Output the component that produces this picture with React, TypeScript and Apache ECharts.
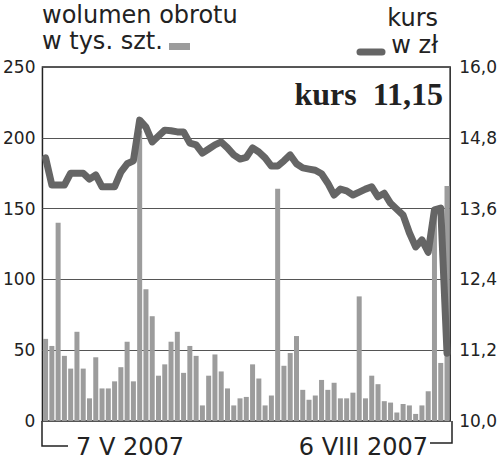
import React, { useEffect, useRef } from "react";
import * as echarts from "echarts";

// trading days 7 V 2007 – 6 VIII 2007 (weekends and 7 VI holiday skipped)
const startDate = new Date(2007, 4, 7);
const endDate = new Date(2007, 7, 6);
const categories: string[] = [];
for (let d = new Date(startDate); d <= endDate; d.setDate(d.getDate() + 1)) {
  const wd = d.getDay();
  if (wd === 0 || wd === 6) continue;
  if (d.getMonth() === 5 && d.getDate() === 7) continue;
  categories.push(d.getDate() + "." + String(d.getMonth() + 1).padStart(2, "0"));
}

const volume = [
  58, 53, 140, 46, 37, 63, 37, 16, 45, 23,
  23, 28, 38, 56, 28, 205, 93, 74, 32, 40,
  56, 63, 34, 53, 46, 11, 32, 47, 35, 23,
  11, 16, 17, 40, 30, 11, 18, 164, 39, 48,
  60, 22, 15, 18, 29, 22, 27, 16, 16, 20,
  88, 16, 32, 26, 14, 13, 6, 12, 11, 5,
  11, 21, 150, 41, 166,
];

const kurs = [
  14.46, 14.0, 14.0, 14.0, 14.2, 14.2, 14.2, 14.1, 14.17, 13.97,
  13.97, 13.97, 14.22, 14.36, 14.41, 15.1, 14.98, 14.73, 14.83, 14.93,
  14.92, 14.9, 14.9, 14.71, 14.68, 14.54, 14.61, 14.68, 14.73, 14.63,
  14.51, 14.44, 14.47, 14.63, 14.56, 14.46, 14.32, 14.32, 14.41, 14.51,
  14.36, 14.29, 14.27, 14.25, 14.19, 14.03, 13.83, 13.93, 13.9, 13.83,
  13.88, 13.93, 13.97, 13.8, 13.86, 13.69, 13.59, 13.49, 13.19, 12.95,
  13.07, 12.86, 13.58, 13.61, 11.15,
];

const leftTicks = { min: 0, max: 250, interval: 50 };
const rightTicks = { min: 10, max: 16, interval: 1.2 };
const firstDateLabel = "7 V 2007";
const lastDateLabel = "6 VIII 2007";
const lastKurs = "11,15";

const SANS = '"DejaVu Sans", sans-serif';
const INK = "#222";

export default function App() {
  const ref = useRef<HTMLDivElement>(null);
  useEffect(() => {
    if (!ref.current) return;
    const chart = echarts.init(ref.current, undefined, { renderer: "svg" });
    chart.setOption({
      animation: false,
      backgroundColor: "#fff",
      grid: {
        left: 42,
        right: 48,
        top: 67,
        bottom: 43,
        show: true,
        borderColor: INK,
        borderWidth: 1.5,
        backgroundColor: "transparent",
      },
      xAxis: {
        type: "category",
        data: categories,
        boundaryGap: true,
        axisLine: { show: false },
        axisTick: { show: false },
        axisLabel: { show: false },
      },
      yAxis: [
        {
          type: "value",
          ...leftTicks,
          axisLine: { show: false },
          axisTick: { show: false },
          axisLabel: { color: INK, fontFamily: SANS, fontSize: 17, margin: 7 },
          splitLine: { show: true, lineStyle: { color: "#555", width: 1 } },
        },
        {
          type: "value",
          position: "right",
          ...rightTicks,
          axisLine: { show: false },
          axisTick: { show: false },
          axisLabel: {
            color: INK,
            fontFamily: SANS,
            fontSize: 17,
            margin: 9,
            formatter: (v: number) => v.toFixed(1).replace(".", ","),
          },
          splitLine: { show: false },
        },
      ],
      series: [
        {
          type: "bar",
          data: volume,
          yAxisIndex: 0,
          barWidth: 5,
          itemStyle: { color: "#9c9c9c" },
          z: 2,
        },
        {
          type: "line",
          data: kurs,
          yAxisIndex: 1,
          symbol: "none",
          lineStyle: { color: "#656565", width: 7, join: "round", cap: "round" },
          z: 3,
        },
      ],
      graphic: [
        { type: "text", left: 42, top: 3, style: { text: "wolumen obrotu", font: `24px ${SANS}`, fill: INK } },
        { type: "text", left: 42, top: 29, style: { text: "w tys. szt.", font: `24px ${SANS}`, fill: INK } },
        { type: "rect", shape: { x: 169, y: 43, width: 21, height: 7 }, style: { fill: "#9c9c9c" } },
        { type: "text", right: 62, top: 6, style: { text: "kurs", font: `24px ${SANS}`, fill: INK } },
        { type: "text", right: 62, top: 33, style: { text: "w zł", font: `24px ${SANS}`, fill: INK } },
        {
          type: "line",
          shape: { x1: 360, y1: 52, x2: 382, y2: 52 },
          style: { stroke: "#656565", lineWidth: 7, lineCap: "round" },
        },
        {
          type: "text",
          x: 443,
          y: 94,
          style: {
            text: "kurs  " + lastKurs,
            font: `bold 32px "Liberation Serif", serif`,
            fill: INK,
            align: "right",
            verticalAlign: "middle",
          },
        },
        // bottom brackets
        { type: "polyline", shape: { points: [[42, 421], [42, 446], [68, 446]] }, style: { stroke: INK, lineWidth: 1.5, fill: "none" } },
        { type: "polyline", shape: { points: [[430, 443], [452, 443], [452, 421]] }, style: { stroke: INK, lineWidth: 1.5, fill: "none" } },
        {
          type: "text",
          x: 76,
          y: 447,
          style: { text: firstDateLabel, font: `24px ${SANS}`, fill: INK, align: "left", verticalAlign: "middle" },
        },
        {
          type: "text",
          x: 428,
          y: 447,
          style: { text: lastDateLabel, font: `24px ${SANS}`, fill: INK, align: "right", verticalAlign: "middle" },
        },
      ],
    });
    return () => chart.dispose();
  }, []);
  return <div ref={ref} style={{ width: 500, height: 464, position: "absolute", left: 0, top: 0 }} />;
}
